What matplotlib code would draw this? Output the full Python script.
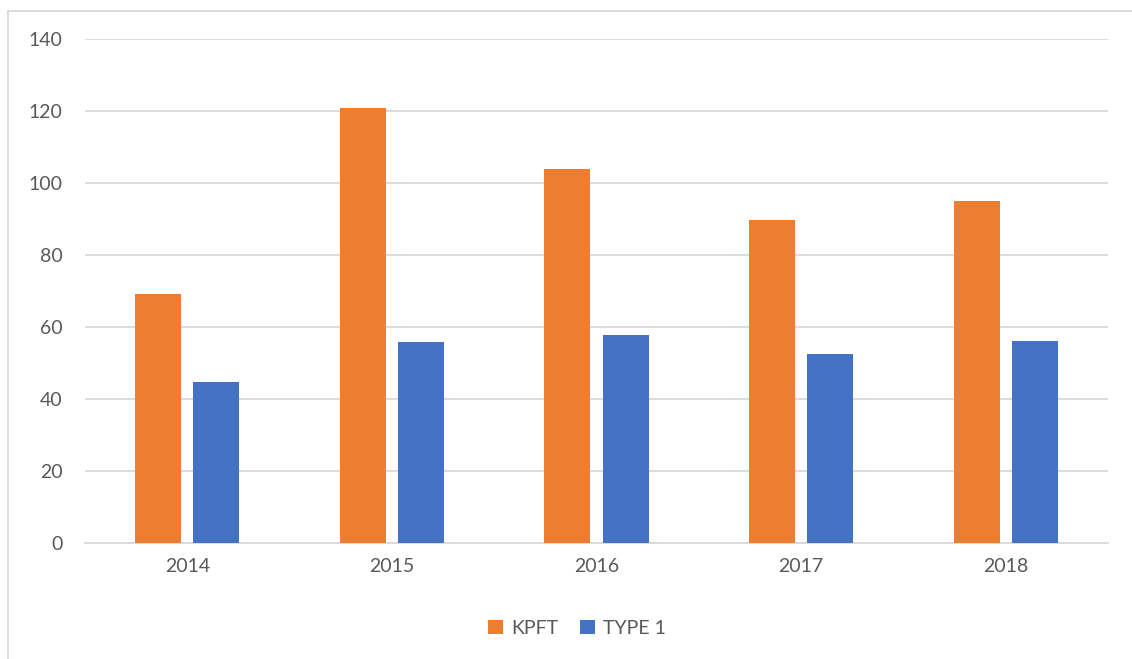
import matplotlib
matplotlib.use("Agg")
import matplotlib.pyplot as plt
from matplotlib.lines import Line2D
import numpy as np

# data
years = ["2014", "2015", "2016", "2017", "2018"]
kpft = [69.2, 120.8, 104.0, 89.7, 94.9]
type1 = [44.6, 55.9, 57.9, 52.4, 56.1]

orange = "#ED7D31"
blue = "#4472C4"
grid_col = "#D9D9D9"
txt_col = "#595959"

plt.rcParams["font.family"] = ["Lato", "DejaVu Sans"]

fig = plt.figure(figsize=(11.32, 6.59), dpi=100)
ax = fig.add_axes([85 / 1132, 1 - 543 / 659, 1023 / 1132, 504 / 659])

x = np.arange(len(years))
w = 0.225
off = 0.142
ax.bar(x - off, kpft, width=w, color=orange, label="KPFT", zorder=3)
ax.bar(x + off, type1, width=w, color=blue, label="TYPE 1", zorder=3)

ax.set_xlim(-0.5, len(years) - 0.5)
ax.set_ylim(0, 140)
ax.set_yticks(range(0, 141, 20))
ax.set_xticks(x)
ax.set_xticklabels(years)
ax.yaxis.grid(True, color=grid_col, linewidth=1.3, zorder=0)
for s in ["left", "right", "top"]:
    ax.spines[s].set_visible(False)
ax.spines["bottom"].set_color(grid_col)
ax.spines["bottom"].set_linewidth(1.3)
ax.tick_params(axis="both", length=0, labelsize=14, labelcolor=txt_col)
ax.tick_params(axis="y", pad=16)
ax.tick_params(axis="x", pad=11)

leg = fig.legend(loc="center", bbox_to_anchor=(0.51, 1 - 628 / 659), ncol=2,
                 frameon=False, fontsize=14, handlelength=0.75, handleheight=0.75,
                 handletextpad=0.45, columnspacing=1.1)
for t in leg.get_texts():
    t.set_color(txt_col)

# outer chart frame (only left and top edges visible)
fx = 7.5 / 1132
fy = 1 - 10.5 / 659
fig.add_artist(Line2D([fx, fx], [0, fy], transform=fig.transFigure,
                      color=grid_col, linewidth=1.3))
fig.add_artist(Line2D([fx, 1], [fy, fy], transform=fig.transFigure,
                      color=grid_col, linewidth=1.3))

fig.savefig("out.png", dpi=100)
